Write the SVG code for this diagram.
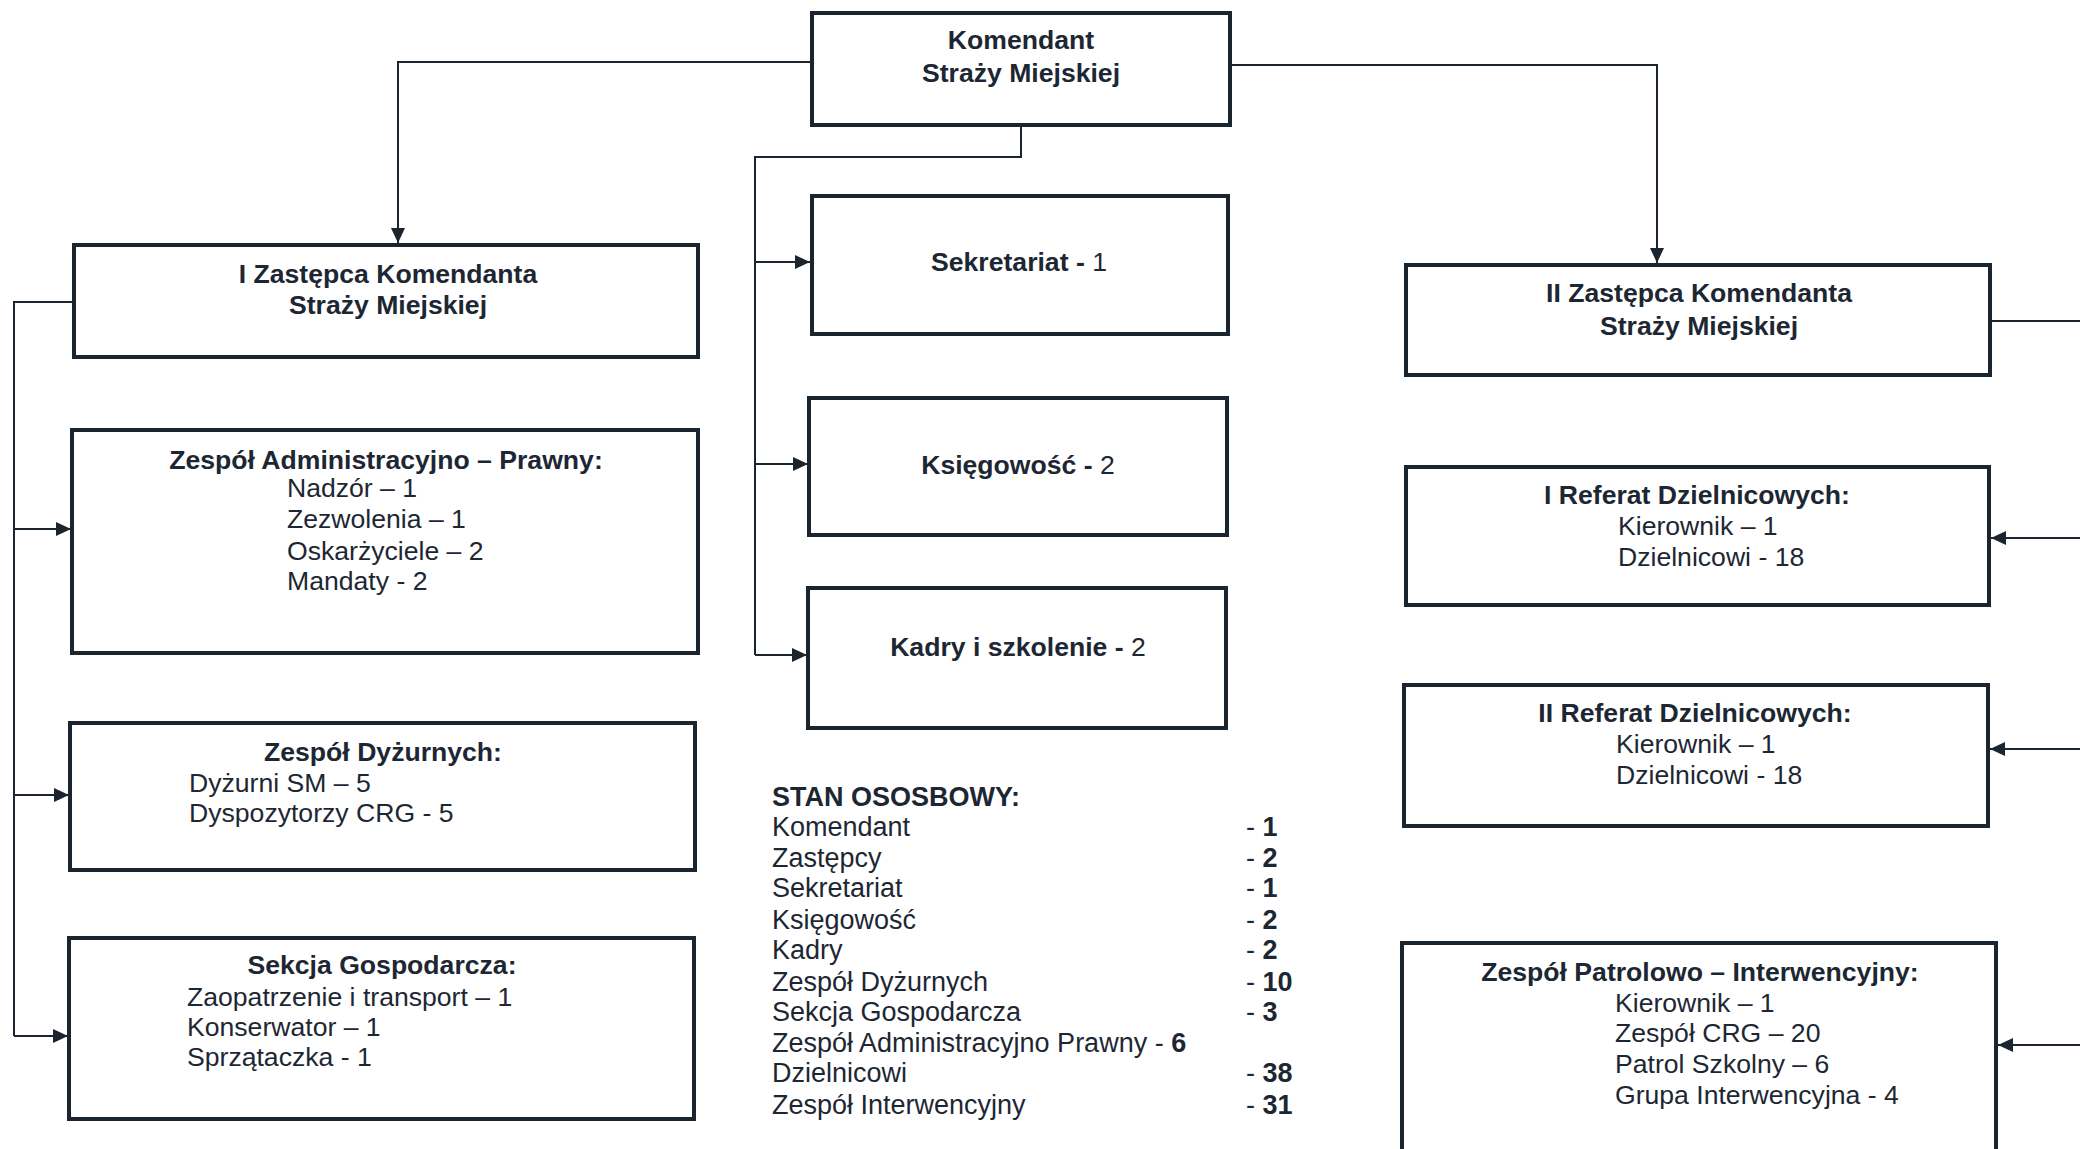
<svg xmlns="http://www.w3.org/2000/svg" width="2080" height="1149" viewBox="0 0 2080 1149">
<defs>
<style>
.box{fill:#fff;stroke:#1b2530;stroke-width:4}
.ln{fill:none;stroke:#1b2530;stroke-width:2}
text{font-family:"Liberation Sans",Arial,sans-serif;fill:#1d2733;font-size:26.6px}
.b{font-weight:bold}
.r{font-weight:normal}
.c{text-anchor:middle}
.l{font-size:27px}
</style>
<marker id="arr" markerUnits="userSpaceOnUse" markerWidth="16" markerHeight="14" refX="15" refY="7" orient="auto">
<path d="M0,0 L15,7 L0,14 z" fill="#1b2530"/>
</marker>
</defs>
<rect width="2080" height="1149" fill="#fff"/>
<g id="connectors">
<path class="ln" d="M812,62 H398 V243" marker-end="url(#arr)"/>
<path class="ln" d="M1230,65 H1657 V263" marker-end="url(#arr)"/>
<path class="ln" d="M1021,125 V157 H755 V655"/>
<path class="ln" d="M755,262 H810" marker-end="url(#arr)"/>
<path class="ln" d="M755,464 H808" marker-end="url(#arr)"/>
<path class="ln" d="M755,655 H807" marker-end="url(#arr)"/>
<path class="ln" d="M73,302 H14 V1036"/>
<path class="ln" d="M14,529 H71" marker-end="url(#arr)"/>
<path class="ln" d="M14,795 H69" marker-end="url(#arr)"/>
<path class="ln" d="M14,1036 H68" marker-end="url(#arr)"/>
<path class="ln" d="M1990,321 H2080"/>
<path class="ln" d="M2080,538 H1991" marker-end="url(#arr)"/>
<path class="ln" d="M2080,749 H1990" marker-end="url(#arr)"/>
<path class="ln" d="M2080,1045 H1998" marker-end="url(#arr)"/>
</g>
<g id="komendant">
<rect class="box" x="812" y="13" width="418" height="112"/>
<text class="b c" x="1021" y="49">Komendant</text>
<text class="b c" x="1021" y="82">Straży Miejskiej</text>
</g>
<g id="zastepca1">
<rect class="box" x="74" y="245" width="624" height="112"/>
<text class="b c" x="388" y="283">I Zastępca Komendanta</text>
<text class="b c" x="388" y="314">Straży Miejskiej</text>
</g>
<g id="zastepca2">
<rect class="box" x="1406" y="265" width="584" height="110"/>
<text class="b c" x="1699" y="302">II Zastępca Komendanta</text>
<text class="b c" x="1699" y="335">Straży Miejskiej</text>
</g>
<g id="sekretariat">
<rect class="box" x="812" y="196" width="416" height="138"/>
<text class="b c" x="1019" y="271">Sekretariat - <tspan class="r">1</tspan></text>
</g>
<g id="ksiegowosc">
<rect class="box" x="809" y="398" width="418" height="137"/>
<text class="b c" x="1018" y="474">Księgowość - <tspan class="r">2</tspan></text>
</g>
<g id="kadry">
<rect class="box" x="808" y="588" width="418" height="140"/>
<text class="b c" x="1018" y="656">Kadry i szkolenie - <tspan class="r">2</tspan></text>
</g>
<g id="zespol-admin">
<rect class="box" x="72" y="430" width="626" height="223"/>
<text class="b c" x="386" y="469">Zespół Administracyjno – Prawny:</text>
<text x="287" y="497">Nadzór – 1</text>
<text x="287" y="528">Zezwolenia – 1</text>
<text x="287" y="560">Oskarżyciele – 2</text>
<text x="287" y="590">Mandaty - 2</text>
</g>
<g id="zespol-dyzurnych">
<rect class="box" x="70" y="723" width="625" height="147"/>
<text class="b c" x="383" y="761">Zespół Dyżurnych:</text>
<text x="189" y="792">Dyżurni SM – 5</text>
<text x="189" y="822">Dyspozytorzy CRG - 5</text>
</g>
<g id="sekcja-gospodarcza">
<rect class="box" x="69" y="938" width="625" height="181"/>
<text class="b c" x="382" y="974">Sekcja Gospodarcza:</text>
<text x="187" y="1006">Zaopatrzenie i transport – 1</text>
<text x="187" y="1036">Konserwator – 1</text>
<text x="187" y="1066">Sprzątaczka - 1</text>
</g>
<g id="referat1">
<rect class="box" x="1406" y="467" width="583" height="138"/>
<text class="b c" x="1697" y="504">I Referat Dzielnicowych:</text>
<text x="1618" y="535">Kierownik – 1</text>
<text x="1618" y="566">Dzielnicowi - 18</text>
</g>
<g id="referat2">
<rect class="box" x="1404" y="685" width="584" height="141"/>
<text class="b c" x="1695" y="722">II Referat Dzielnicowych:</text>
<text x="1616" y="753">Kierownik – 1</text>
<text x="1616" y="784">Dzielnicowi - 18</text>
</g>
<g id="zespol-patrolowo">
<rect class="box" x="1402" y="943" width="594" height="230"/>
<text class="b c" x="1700" y="981">Zespół Patrolowo – Interwencyjny:</text>
<text x="1615" y="1012">Kierownik – 1</text>
<text x="1615" y="1042">Zespół CRG – 20</text>
<text x="1615" y="1073">Patrol Szkolny – 6</text>
<text x="1615" y="1104">Grupa Interwencyjna - 4</text>
</g>
<g id="stan-osobowy">
<text class="b l" x="772" y="806">STAN OSOSBOWY:</text>
<text class="l" x="772" y="836">Komendant</text>
<text class="l" x="772" y="867">Zastępcy</text>
<text class="l" x="772" y="897">Sekretariat</text>
<text class="l" x="772" y="929">Księgowość</text>
<text class="l" x="772" y="959">Kadry</text>
<text class="l" x="772" y="991">Zespół Dyżurnych</text>
<text class="l" x="772" y="1021">Sekcja Gospodarcza</text>
<text class="l" x="772" y="1052">Zespół Administracyjno Prawny - <tspan class="b">6</tspan></text>
<text class="l" x="772" y="1082">Dzielnicowi</text>
<text class="l" x="772" y="1114">Zespół Interwencyjny</text>
<text class="l" x="1246" y="836">- <tspan class="b">1</tspan></text>
<text class="l" x="1246" y="867">- <tspan class="b">2</tspan></text>
<text class="l" x="1246" y="897">- <tspan class="b">1</tspan></text>
<text class="l" x="1246" y="929">- <tspan class="b">2</tspan></text>
<text class="l" x="1246" y="959">- <tspan class="b">2</tspan></text>
<text class="l" x="1246" y="991">- <tspan class="b">10</tspan></text>
<text class="l" x="1246" y="1021">- <tspan class="b">3</tspan></text>
<text class="l" x="1246" y="1082">- <tspan class="b">38</tspan></text>
<text class="l" x="1246" y="1114">- <tspan class="b">31</tspan></text>
</g>
</svg>
